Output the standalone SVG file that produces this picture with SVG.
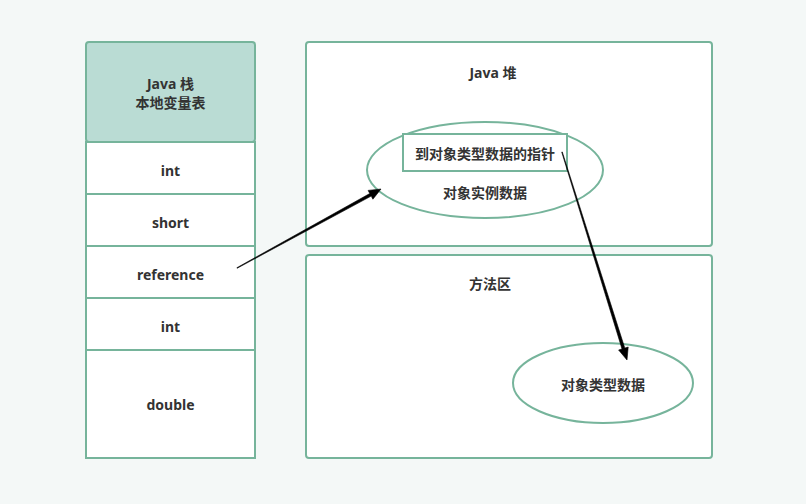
<svg xmlns="http://www.w3.org/2000/svg" width="806" height="504" viewBox="0 0 806 504">
<style>
.box{fill:#ffffff;stroke:#76b49b;stroke-width:2}
.hdr{fill:#badcd4;stroke:#76b49b;stroke-width:2}
.ell{fill:#ffffff;stroke:#76b49b;stroke-width:2}
.t{font-family:"Noto Sans","Noto Sans CJK SC",sans-serif;font-size:14px;font-weight:bold;fill:#333333;text-anchor:middle;dominant-baseline:central}
.arr{fill:#000000;stroke:#000000;stroke-width:0.6;stroke-linejoin:miter}
</style>
<rect x="0" y="0" width="806" height="504" fill="#f4f8f7"/>
<g id="stack">
<rect class="hdr" x="86" y="42" width="169" height="100" rx="3"/>
<text class="t" x="170.5" y="83">Java 栈</text>
<text class="t" x="170.5" y="102">本地变量表</text>
</g>
<g id="row-int1"><rect class="box" x="86" y="142" width="169" height="52"/><text class="t" x="170.5" y="170">int</text></g>
<g id="row-short"><rect class="box" x="86" y="194" width="169" height="52"/><text class="t" x="170.5" y="222">short</text></g>
<g id="row-reference"><rect class="box" x="86" y="246" width="169" height="52"/><text class="t" x="170.5" y="274">reference</text></g>
<g id="row-int2"><rect class="box" x="86" y="298" width="169" height="52"/><text class="t" x="170.5" y="326">int</text></g>
<g id="row-double"><rect class="box" x="86" y="350" width="169" height="108"/><text class="t" x="170.5" y="404">double</text></g>
<g id="heap">
<rect class="box" x="306" y="42" width="406" height="204" rx="3"/>
<text class="t" x="493" y="72">Java 堆</text>
</g>
<g id="instance">
<ellipse class="ell" cx="485" cy="170" rx="118" ry="48"/>
<text class="t" x="485" y="192">对象实例数据</text>
</g>
<g id="pointer">
<rect class="box" x="403" y="134" width="164" height="37"/>
<text class="t" x="485" y="153">到对象类型数据的指针</text>
</g>
<g id="method">
<rect class="box" x="306" y="255" width="406" height="203" rx="3"/>
<text class="t" x="490" y="283">方法区</text>
</g>
<g id="typedata">
<ellipse class="ell" cx="603" cy="383" rx="90" ry="40"/>
<text class="t" x="603" y="384">对象类型数据</text>
</g>
<g id="connectors">
<path class="arr" d="M236.86,267.74 L369.8,193.5 L368.1,190.4 L381,189 L372.9,199.2 L371.2,196.1 L237.14,268.26 Z"/>
<path class="arr" d="M561.71,152.09 L622,349 L618.6,350 L627,360 L628.2,347 L624.8,348.1 L562.29,151.91 Z"/>
</g>
</svg>
